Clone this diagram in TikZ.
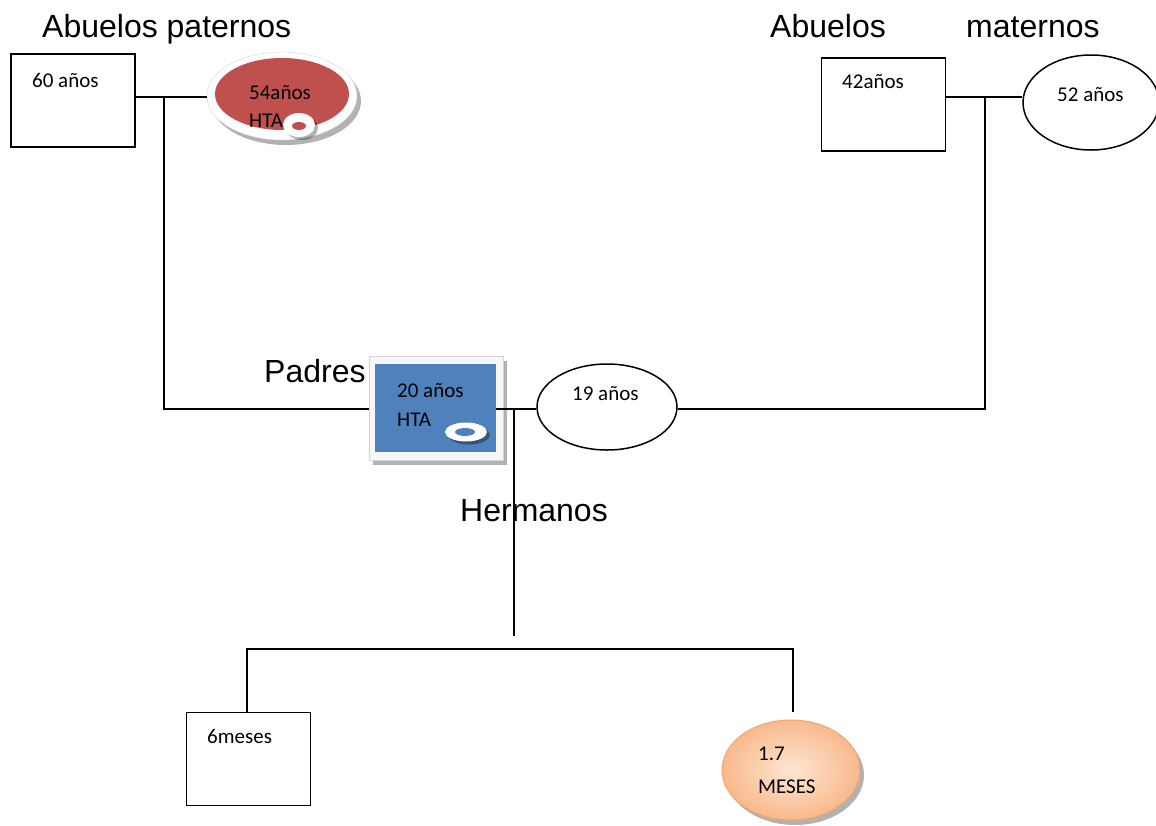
\documentclass[tikz,border=0pt]{standalone}
\usepackage{fontspec}
\setmainfont{Carlito}
\newfontfamily\titlefont{Liberation Sans}
\usetikzlibrary{shapes.geometric,shadows}
\definecolor{redfill}{HTML}{C0504D}
\definecolor{bluefill}{HTML}{4F81BD}
\definecolor{peach}{HTML}{FDE6D4}
\definecolor{orangeout}{HTML}{F9B98C}
\definecolor{orangeedge}{HTML}{F4A46C}
\definecolor{frameedge}{HTML}{D4D4D4}
\begin{document}
\begin{tikzpicture}[x=1pt,y=-1pt,
  box/.style={draw, line width=1.5pt, minimum width=124pt, minimum height=93pt, inner sep=0pt},
  oval/.style={ellipse, draw, line width=1.5pt, inner sep=0pt},
  title/.style={font=\titlefont\fontsize{32}{36}\selectfont, anchor=base west, inner sep=0pt},
  lbl/.style={font=\fontsize{21}{25}\selectfont, anchor=base west, inner sep=0pt},
  link/.style={line width=1.6pt},
  soft shadow/.style={drop shadow={shadow xshift=4pt, shadow yshift=-5pt, fill=black, opacity=0.3}}]
\useasboundingbox (0,0) rectangle (1156,825);

% junction points of the family lines
\coordinate (jp)  at (164,97);
\coordinate (jpb) at (164,409);
\coordinate (jh)  at (514,409);
\coordinate (jhb) at (514,636);
\coordinate (jm)  at (985,97);
\coordinate (jmb) at (985,409);
\coordinate (js1) at (247,649);
\coordinate (js2) at (793,649);
\coordinate (je17) at (793,712);

% titles
\node[title] (tap) at (42,37) {Abuelos paternos};
\node[title] (tam) at (770,37) {Abuelos};
\node[title] (tma) at (966,37) {maternos};
\node[title] (tpa) at (264,382) {Padres};
\node[title] (the) at (460,521) {Hermanos};

% paternal grandparents
\node[box] (b60) at (73,100.5) {};
\node[ellipse, fill=white, draw=frameedge, minimum width=150pt, minimum height=88pt, inner sep=0pt, soft shadow] (m54) at (282,96) {};
\node[ellipse, fill=redfill, minimum width=134pt, minimum height=72pt, inner sep=0pt] (m54in) at (282,94) {};
\fill[black, opacity=0.3] (302,128) ellipse [x radius=16pt, y radius=12pt];
\fill[white] (299,125) ellipse [x radius=16pt, y radius=12pt];
\fill[redfill] (299,126) ellipse [x radius=7pt, y radius=4pt];
\node[lbl] (t60) at (32,87) {60 años};
\node[lbl] (t54) at (249,99) {54años};
\node[lbl] (t54b) at (249,127) {HTA};

% maternal grandparents
\node[box] (b42) at (883.5,104.5) {};
\node[oval, minimum width=136pt, minimum height=95pt] (e52) at (1091,102.5) {};
\node[lbl] (t42) at (842,88) {42años};
\node[lbl] (t52) at (1057,101) {52 años};

% parents
\node[draw=frameedge, fill=gray!6, minimum width=134pt, minimum height=104pt, inner sep=0pt, soft shadow] (pad) at (436,408) {};
\node[fill=bluefill, minimum width=121pt, minimum height=88pt, inner sep=0pt] (padin) at (435.5,408) {};
\fill[black, opacity=0.35] (469,435) ellipse [x radius=21pt, y radius=9.5pt];
\fill[white] (466,432) ellipse [x radius=21pt, y radius=9.5pt];
\fill[bluefill] (465,432) ellipse [x radius=10pt, y radius=4pt];
\node[lbl] (t20) at (397,397) {20 años};
\node[lbl] (t20b) at (397,426) {HTA};
\node[oval, minimum width=140pt, minimum height=86pt] (e19) at (607,407) {};
\node[lbl] (t19) at (572,400) {19 años};

% siblings
\node[box] (b6) at (248.5,759) {};
\node[ellipse, draw=orangeedge, line width=1pt, inner color=peach, outer color=orangeout, minimum width=138pt, minimum height=100pt, inner sep=0pt, soft shadow] (e17) at (791,770) {};
\node[lbl] (t6) at (207,743) {6meses};
\node[lbl] (t17) at (758,760) {1.7};
\node[lbl] (t17b) at (758,793) {MESES};

% family lines
\draw[link] (b60.east |- jp) -- (m54.west |- jp);
\draw[link] (jp) -- (jpb) -- (pad.west |- jpb);
\draw[link] (padin.east |- jh) -- (e19.west |- jh);
\draw[link] (jh) -- (jhb);
\draw[link] (e19.east |- jmb) -- (jmb) -- (jm);
\draw[link] (b42.east |- jm) -- (e52.west |- jm);
\draw[link] (js1 |- b6.north) -- (js1) -- (js2) -- (je17);
\end{tikzpicture}
\end{document}
